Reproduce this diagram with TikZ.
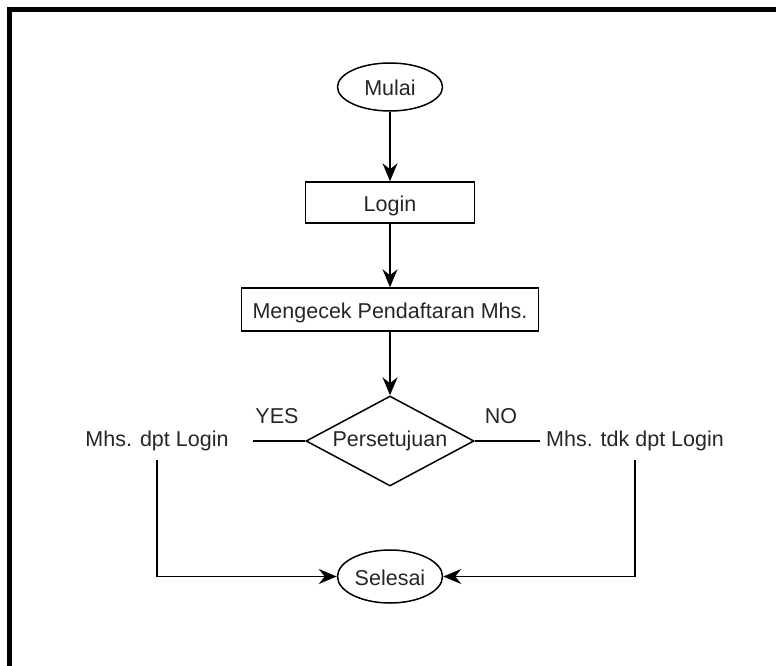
\documentclass[tikz,border=0pt]{standalone}
\usepackage{fontspec}
\setmainfont{Liberation Sans}
\usetikzlibrary{shapes.geometric,arrows.meta}
\begin{document}
\begin{tikzpicture}[x=1pt,y=-1pt,
  every node/.style={font=\fontsize{21.5}{24}\selectfont, text=black!85},
  boxtext/.style={text height=17pt, text depth=0pt},
  linetext/.style={text height=16pt, text depth=5pt},
  flow/.style={line width=1.5pt},
  arr/.style={flow, -{Stealth[length=18pt,width=15pt,inset=6pt]}},
  terminal/.style={draw, line width=1.5pt, ellipse, boxtext, minimum width=105pt, inner sep=0pt},
  process/.style={draw, line width=1.5pt, rectangle, boxtext, inner sep=0pt},
  decision/.style={draw, line width=1.5pt, diamond, linetext, minimum width=168pt,
                   minimum height=90pt, aspect=1.87, inner sep=0pt},
  outcome/.style={linetext, inner ysep=8.5pt}]
\useasboundingbox (0,0) rectangle (776,666);
% page frame
\draw[line width=5pt] (9,666) -- (9,9.5) -- (776,9.5);

% flow steps
\node[terminal, minimum height=48pt] (mulai) at (390,87) {Mulai};
\node[process, minimum width=169pt, minimum height=41pt] (login) at (390,202.5) {Login};
\node[process, minimum width=297pt, minimum height=43pt] (cek) at (390,309.5) {Mengecek Pendaftaran Mhs.};
\node[decision] (acc) at (390,441) {Persetujuan};
\node[outcome, inner xsep=24.5pt] (dpt) at (157,441) {Mhs. dpt Login};
\node[outcome, inner xsep=6pt] (tdk) at (635,441) {Mhs. tdk dpt Login};
\node[terminal, minimum height=53pt] (selesai) at (390,576.5) {Selesai};

% branch labels
\node[linetext, inner sep=0pt] (yes) at (277,417.5) {YES};
\node[linetext, inner sep=0pt] (no) at (501,417.5) {NO};

% connectors
\draw[arr] (mulai.south) -- (login.north);
\draw[arr] (login.south) -- (cek.north);
\draw[arr] (cek.south) -- (acc.north);
\draw[flow] (acc.west) -- (dpt.east);
\draw[flow] (acc.east) -- (tdk.west);
\draw[arr] (dpt.south) |- (selesai.west);
\draw[arr] (tdk.south) |- (selesai.east);
\end{tikzpicture}
\end{document}
